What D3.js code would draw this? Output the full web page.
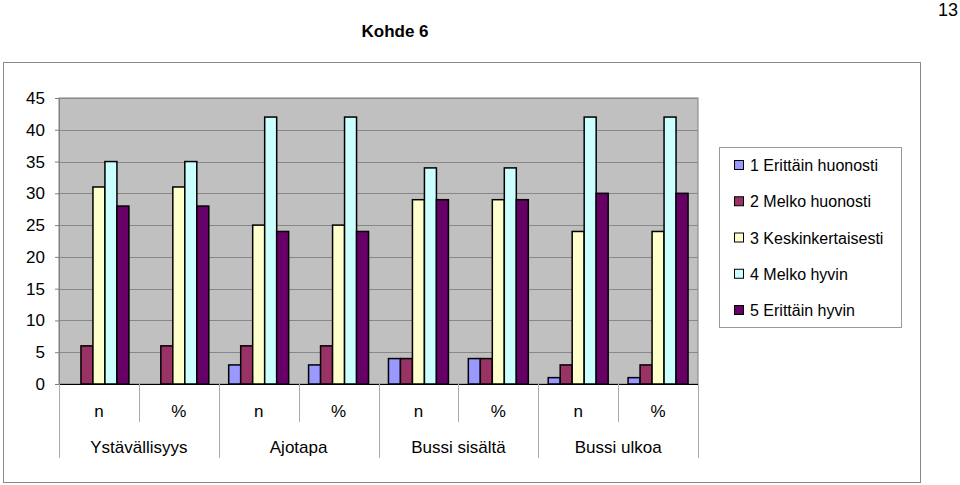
<!DOCTYPE html>
<html><head><meta charset="utf-8">
<script src="https://cdn.jsdelivr.net/npm/d3@7"></script>
<style>body{margin:0;background:#fff;}svg{display:block;font-family:Arial,"Liberation Sans",sans-serif;}</style>
</head><body>
<svg id="c" width="960" height="485"></svg>
<script>
const groups = ["Ystävällisyys","Ajotapa","Bussi sisältä","Bussi ulkoa"];
const subLabels = ["n","%"];
const seriesNames = ["1 Erittäin huonosti","2 Melko huonosti","3 Keskinkertaisesti","4 Melko hyvin","5 Erittäin hyvin"];
const seriesColors = ["#9999FF","#993366","#FFFFCC","#CCFFFF","#660066"];
// values per column (group × n/%), per series
const s1 = [0,0,3,3,4,4,1,1];
const s2 = [6,6,6,6,4,4,3,3];
const s3 = [31,31,25,25,29,29,24,24];
const s4 = [35,35,42,42,34,34,42,42];
const s5 = [28,28,24,24,29,29,30,30];
const yTicks = [0,5,10,15,20,25,30,35,40,45];

const series = [s1,s2,s3,s4,s5];
const columns = [];
groups.forEach(g=>subLabels.forEach(s=>columns.push(g+"|"+s)));

const svg = d3.select("#c");
svg.append("rect").attr("x",3.5).attr("y",62.5).attr("width",917).attr("height",420)
  .attr("fill","#fff").attr("stroke","#888").attr("stroke-width",1);
svg.append("text").attr("x",395).attr("y",37).attr("text-anchor","middle")
  .attr("font-size",17).attr("font-weight","bold").text("Kohde 6");
svg.append("text").attr("x",958).attr("y",16).attr("text-anchor","end")
  .attr("font-size",18).text("13");

const L=59, R=698, T=98, B=384;
const x = d3.scaleBand().domain(columns).range([L,R]).paddingInner(0).paddingOuter(0);
const y = d3.scaleLinear().domain([0,45]).range([B,T]);
const xs = d3.scaleBand().domain(d3.range(5)).range([0,x.bandwidth()]).paddingInner(0).paddingOuter(0.83);

svg.append("rect").attr("x",L).attr("y",T).attr("width",R-L).attr("height",B-T)
  .attr("fill","#C0C0C0").attr("stroke","#808080");
svg.append("g").selectAll("line").data(yTicks.filter(t=>t>0)).join("line")
  .attr("x1",L).attr("x2",R).attr("y1",d=>Math.round(y(d))+0.5).attr("y2",d=>Math.round(y(d))+0.5)
  .attr("stroke","#888").attr("stroke-width",1);

const ya = svg.append("g").attr("transform",`translate(${L},0)`)
  .call(d3.axisLeft(y).tickValues(yTicks).tickSize(4).tickPadding(6));
ya.select(".domain").attr("stroke","#808080");
ya.selectAll(".tick line").attr("stroke","#808080");
ya.selectAll("text").attr("font-size",17).attr("fill","#000").attr("font-family","Arial, 'Liberation Sans', sans-serif");
ya.selectAll(".tick text").attr("dx",-4);

const bg = svg.append("g");
series.forEach((vals,si)=>{
  vals.forEach((v,ci)=>{
    if(v<=0) return;
    bg.append("rect")
      .attr("x",x(columns[ci])+xs(si))
      .attr("y",y(v))
      .attr("width",xs.bandwidth())
      .attr("height",B-y(v))
      .attr("fill",seriesColors[si]).attr("stroke","#000").attr("stroke-width",1.5);
  });
});

svg.append("line").attr("x1",L).attr("x2",R).attr("y1",B+0.5).attr("y2",B+0.5).attr("stroke","#000");
columns.forEach((c,i)=>{
  if(i%2===1){
    const xx = Math.round(x(c))+0.5;
    svg.append("line").attr("x1",xx).attr("x2",xx).attr("y1",B).attr("y2",422).attr("stroke","#aaa");
  }
});
[0,2,4,6,8].forEach(i=>{
  const xx = Math.round(i<8? x(columns[i]) : R)+0.5;
  svg.append("line").attr("x1",xx).attr("x2",xx).attr("y1",B).attr("y2",458).attr("stroke","#aaa");
});
svg.append("g").selectAll("text").data(columns).join("text")
  .attr("x",d=>x(d)+x.bandwidth()/2).attr("y",417).attr("text-anchor","middle")
  .attr("font-size",17).text(d=>d.split("|")[1]);
svg.append("g").selectAll("text").data(groups).join("text")
  .attr("x",d=>x(d+"|n")+x.bandwidth()).attr("y",453).attr("text-anchor","middle")
  .attr("font-size",17).text(d=>d);

svg.append("rect").attr("x",719.5).attr("y",147.5).attr("width",182).attr("height",180)
  .attr("fill","#fff").attr("stroke","#999");
const ly = d3.scalePoint().domain(seriesNames).range([165,310]);
const lg = svg.append("g").selectAll("g").data(seriesNames).join("g")
  .attr("transform",d=>`translate(734,${ly(d)})`);
lg.append("rect").attr("x",0.5).attr("y",-4.5).attr("width",9).attr("height",9)
  .attr("fill",(d,i)=>seriesColors[i]).attr("stroke","#000");
lg.append("text").attr("x",16).attr("y",6).attr("font-size",16).text(d=>d);
</script>
</body></html>
